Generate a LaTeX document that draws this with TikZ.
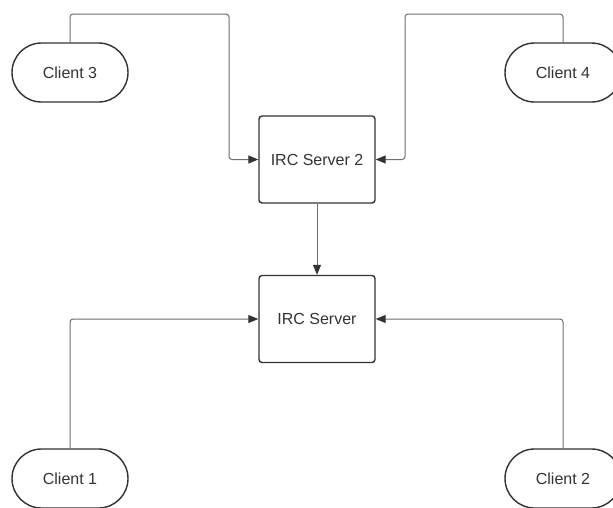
\documentclass[tikz,border=0pt]{standalone}
\usepackage{fontspec}
\setmainfont{Liberation Sans}
\usetikzlibrary{arrows.meta}
\definecolor{edgegray}{HTML}{333333}
\definecolor{linkgray}{HTML}{6E6E6E}
\definecolor{textgray}{HTML}{333333}
\tikzset{
  client/.style={draw=edgegray, line width=1.4pt, rounded corners=29.5pt,
    minimum width=116pt, minimum height=59pt, inner sep=0pt,
    font=\fontsize{16pt}{19pt}\selectfont, text=textgray},
  server/.style={draw=edgegray, line width=1.4pt, rounded corners=3pt,
    minimum width=116pt, minimum height=87pt, inner sep=0pt,
    font=\fontsize{16pt}{19pt}\selectfont, text=textgray},
  link/.style={draw=linkgray, line width=1pt, rounded corners=3pt,
    -{Triangle[length=10pt,width=8pt,fill=edgegray,color=edgegray]}}
}
\begin{document}
\begin{tikzpicture}[x=1pt,y=-1pt]
  \useasboundingbox (0,0) rectangle (613,507);
  \clip (0,0) rectangle (613,507);
  \fill[white] (0,0) rectangle (613,507);

  % servers
  \node[server] (s2) at (317,159.5) {IRC Server 2};
  \node[server] (s1) at (317,319) {IRC Server};

  % clients
  \node[client] (c3) at (70,72.5) {Client 3};
  \node[client] (c4) at (563,72.5) {Client 4};
  \node[client] (c1) at (70,478.5) {Client 1};
  \node[client] (c2) at (563,478.5) {Client 2};

  % links
  \coordinate (t3) at (229,14);
  \coordinate (t4) at (405,14);
  \draw[link] (c3.north) |- (t3) |- (s2.west);
  \draw[link] (c4.north) |- (t4) |- (s2.east);
  \draw[link] (s2.south) -- (s1.north);
  \draw[link] (c1.north) |- (s1.west);
  \draw[link] (c2.north) |- (s1.east);
\end{tikzpicture}
\end{document}
